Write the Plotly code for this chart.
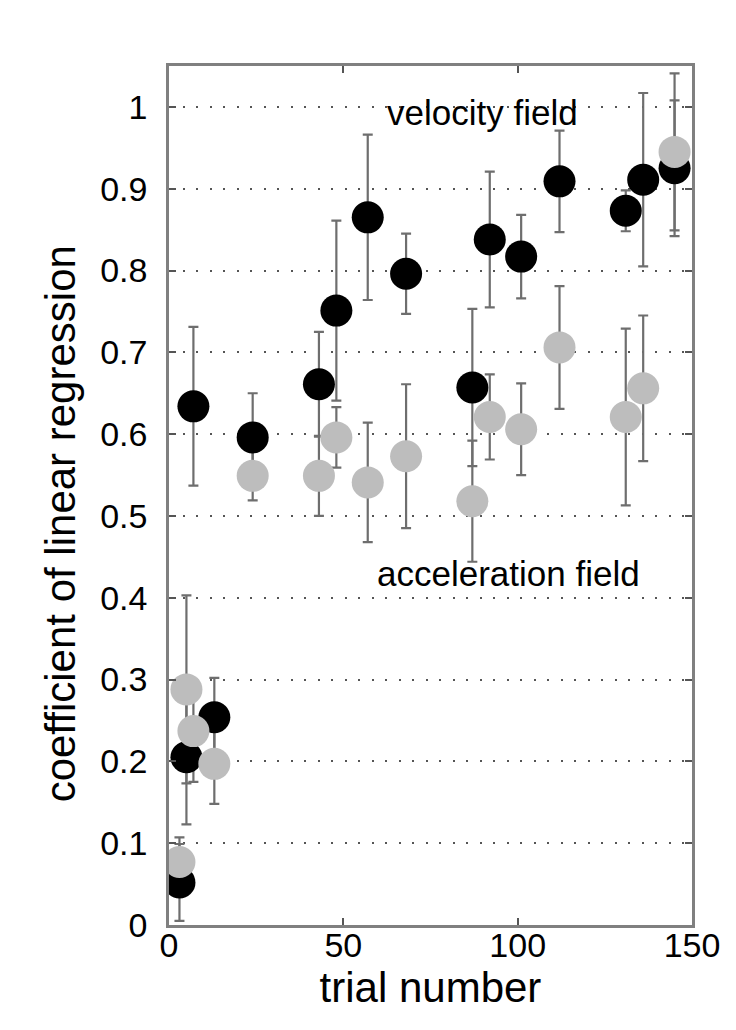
import plotly.graph_objects as go

# trial number / coefficient / error (half-width)
vel_trial = [3, 5, 7, 13, 24, 43, 48, 57, 68, 87, 92, 101, 112, 131, 136, 145]
vel_coef = [0.052, 0.205, 0.634, 0.254, 0.596, 0.661, 0.751, 0.865, 0.796,
            0.657, 0.838, 0.817, 0.909, 0.873, 0.911, 0.925]
vel_err = [0.047, 0.082, 0.097, 0.048, 0.054, 0.064, 0.110, 0.101, 0.049,
           0.096, 0.083, 0.051, 0.062, 0.025, 0.106, 0.083]

acc_trial = [3, 5, 7, 13, 24, 43, 48, 57, 68, 87, 92, 101, 112, 131, 136, 145]
acc_coef = [0.077, 0.288, 0.237, 0.197, 0.549, 0.549, 0.596, 0.541, 0.573,
            0.518, 0.621, 0.606, 0.706, 0.621, 0.656, 0.945]
acc_err = [0.030, 0.115, 0.062, 0.049, 0.030, 0.049, 0.037, 0.073, 0.088,
           0.074, 0.052, 0.056, 0.075, 0.108, 0.089, 0.096]

x_ticks = [0, 50, 100, 150]
y_ticks = [round(i * 0.1, 1) for i in range(11)]

FONT = "Arial, Liberation Sans, sans-serif"
BAR_COLOR = "#6e6e6e"
FRAME = "#808080"

fig = go.Figure()

# error bars first so every marker sits on top of them
for xs, ys, es in [(vel_trial, vel_coef, vel_err), (acc_trial, acc_coef, acc_err)]:
    fig.add_trace(go.Scatter(
        x=xs, y=ys, mode="markers",
        marker=dict(size=1, opacity=0),
        error_y=dict(type="data", array=es, visible=True,
                     color=BAR_COLOR, thickness=2.2, width=5),
        showlegend=False, hoverinfo="skip",
    ))

fig.add_trace(go.Scatter(x=vel_trial, y=vel_coef, mode="markers", name="velocity field",
                         marker=dict(size=32, color="black", line=dict(width=0))))
fig.add_trace(go.Scatter(x=acc_trial, y=acc_coef, mode="markers", name="acceleration field",
                         marker=dict(size=32, color="#bdbdbd", line=dict(width=0))))

fig.add_annotation(x=90, y=0.993, text="velocity field", showarrow=False,
                   font=dict(size=35, color="black", family=FONT))
fig.add_annotation(x=97.3, y=0.43, text="acceleration field", showarrow=False,
                   font=dict(size=35, color="black", family=FONT))

# y title sits a bit below the middle of the axis in the original
fig.add_annotation(xref="paper", yref="y", x=-0.208, y=0.49, textangle=-90,
                   text="coefficient of linear regression", showarrow=False,
                   xanchor="center", yanchor="middle",
                   font=dict(size=42, color="black", family=FONT))

fig.update_layout(
    width=736, height=1030,
    paper_bgcolor="white", plot_bgcolor="white",
    margin=dict(l=161, r=52, t=58, b=113),
    showlegend=False,
    font=dict(family=FONT, color="black"),
)
fig.update_xaxes(
    range=[0, 150], tickvals=x_ticks, showgrid=False, zeroline=False,
    showline=True, linecolor=FRAME, linewidth=2.5, mirror="ticks",
    ticks="inside", ticklen=7, tickcolor="#555", tickwidth=1.5,
    tickfont=dict(size=34), ticklabelstandoff=-12,
    title=dict(text="trial number", font=dict(size=42), standoff=9),
)
fig.update_yaxes(
    range=[0, 1.05], tickvals=y_ticks, zeroline=False,
    showgrid=True, gridcolor="#555", gridwidth=2, griddash="2px,11.5px",
    showline=True, linecolor=FRAME, linewidth=2.5, mirror="ticks",
    ticks="inside", ticklen=7, tickcolor="#555", tickwidth=1.5,
    tickfont=dict(size=34), ticklabelstandoff=12,
)

fig.write_html("out.html")
